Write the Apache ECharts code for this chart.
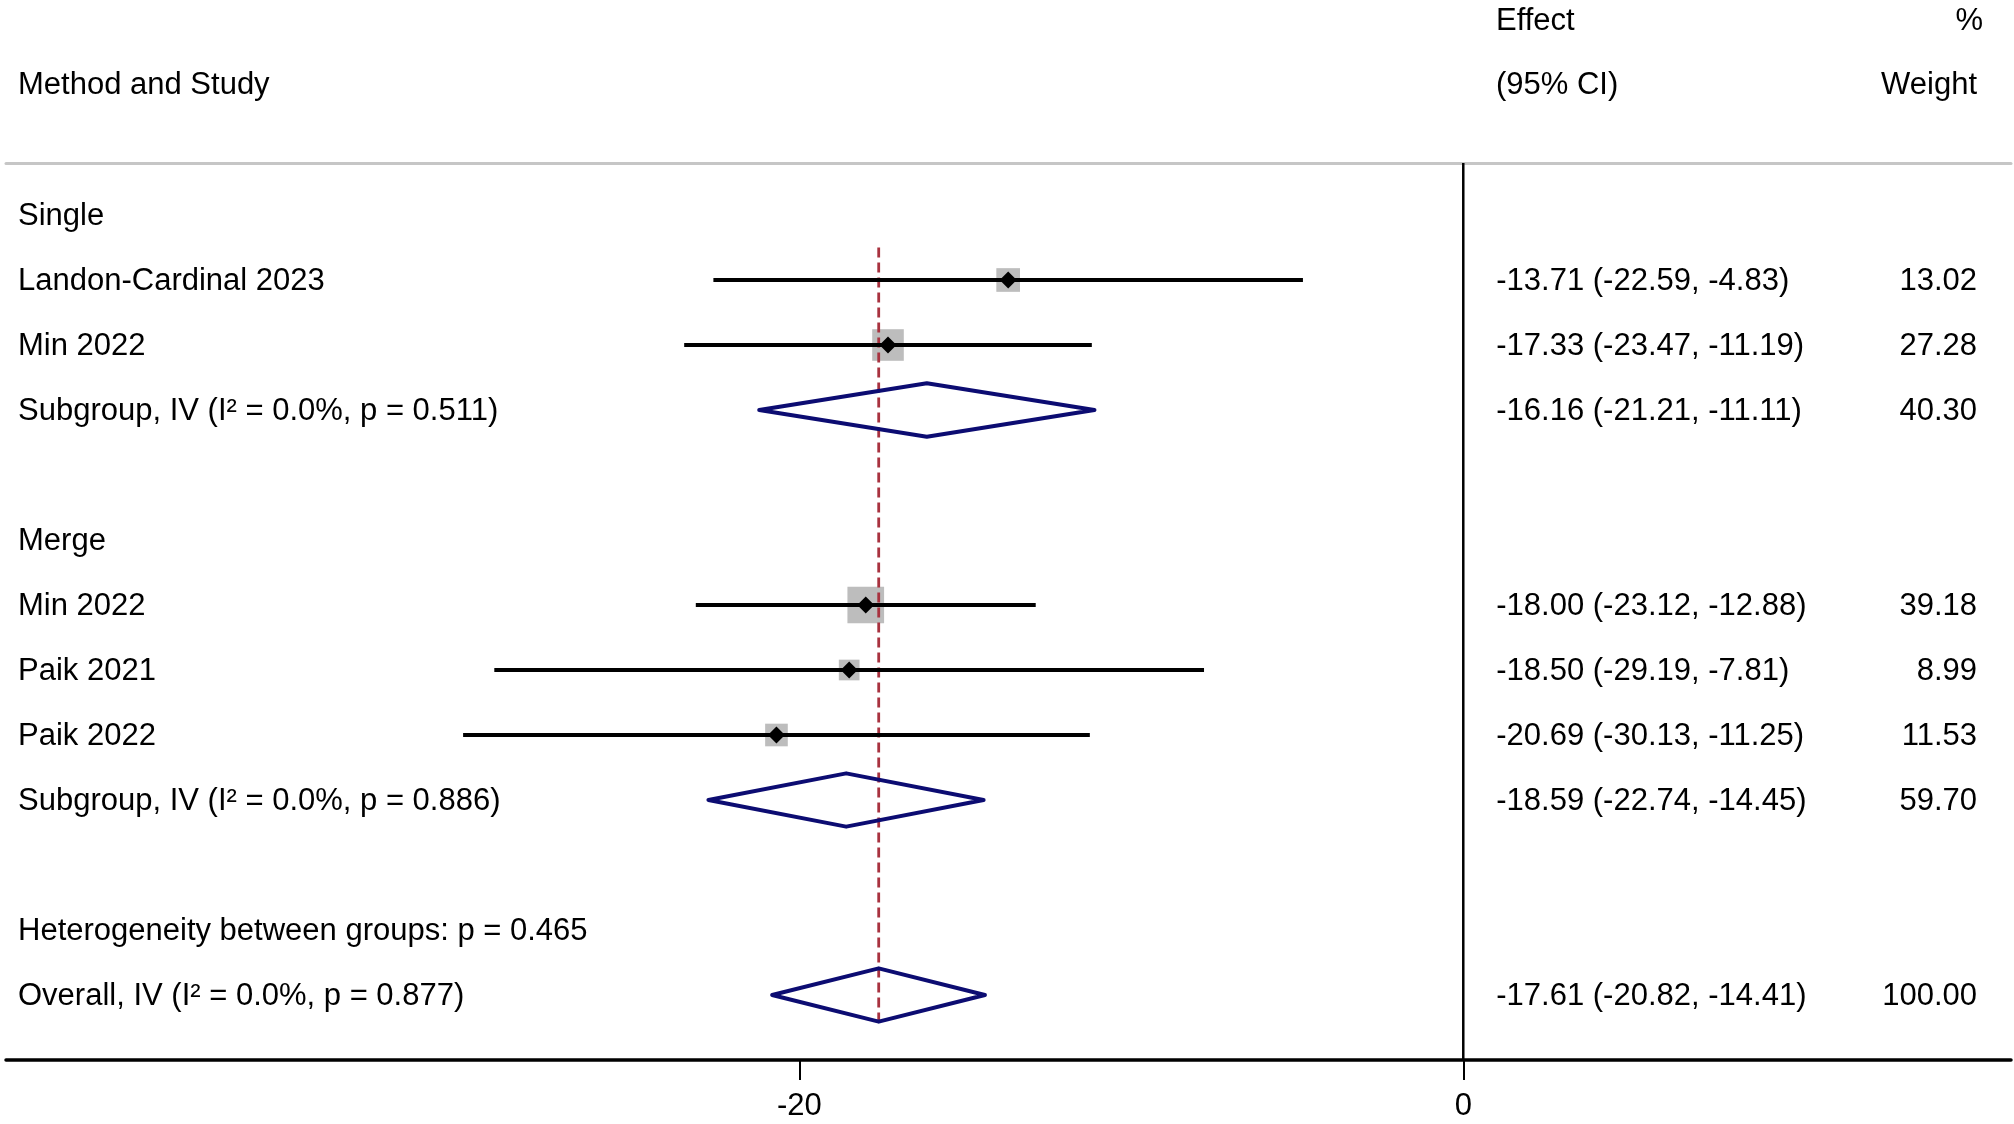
<!DOCTYPE html>
<html>
<head>
<meta charset="utf-8">
<title>Forest plot</title>
<script src="https://cdn.jsdelivr.net/npm/echarts@6/dist/echarts.min.js"></script>
<style>
  html, body { margin: 0; padding: 0; background: #fff; }
  #chart { width: 2014px; height: 1124px; }
</style>
</head>
<body>
<div id="chart"></div>
<script>
// rows, top to bottom
const rowLabels = [
  'Single',
  'Landon-Cardinal 2023',
  'Min 2022',
  'Subgroup, IV (I\u00B2 = 0.0%, p = 0.511)',
  '',
  'Merge',
  'Min 2022',
  'Paik 2021',
  'Paik 2022',
  'Subgroup, IV (I\u00B2 = 0.0%, p = 0.886)',
  '',
  'Heterogeneity between groups: p = 0.465',
  'Overall, IV (I\u00B2 = 0.0%, p = 0.877)'
];

// individual studies
const studyRows = [1, 2, 6, 7, 8];
const studyEst = [-13.71, -17.33, -18.0, -18.5, -20.69];
const studyLo = [-22.59, -23.47, -23.12, -29.19, -30.13];
const studyHi = [-4.83, -11.19, -12.88, -7.81, -11.25];
const studyWeight = [13.02, 27.28, 39.18, 8.99, 11.53];

// subgroup and overall estimates
const pooledRows = [3, 9, 12];
const pooledEst = [-16.16, -18.59, -17.61];
const pooledLo = [-21.21, -22.74, -20.82];
const pooledHi = [-11.11, -14.45, -14.41];
const pooledWeight = [40.3, 59.7, 100.0];

const xTicks = [-20, 0];

const FONT = '"Liberation Sans", Arial, Helvetica, sans-serif';
const FONT_SIZE = 31;
const X_MIN = -43.9;
const X_MAX = 16.5;
const Y_MIN = -0.8;
const Y_MAX = 13;

const fmt = v => v.toFixed(2);
const effectText = (e, l, h) => `${fmt(e)} (${fmt(l)}, ${fmt(h)})`;

// text table: [row, label, effect, weight]
const tableRows = rowLabels.map((label, i) => {
  let eff = '';
  let wt = '';
  const s = studyRows.indexOf(i);
  const p = pooledRows.indexOf(i);
  if (s >= 0) {
    eff = effectText(studyEst[s], studyLo[s], studyHi[s]);
    wt = fmt(studyWeight[s]);
  } else if (p >= 0) {
    eff = effectText(pooledEst[p], pooledLo[p], pooledHi[p]);
    wt = fmt(pooledWeight[p]);
  }
  return [i, label, eff, wt];
});

const studyData = studyRows.map((r, i) => [
  studyEst[i], r, studyLo[i], studyHi[i], studyWeight[i]
]);
const pooledData = pooledRows.map((r, i) => [
  pooledEst[i], r, pooledLo[i], pooledHi[i]
]);

const overall = pooledEst[pooledEst.length - 1];

const chart = echarts.init(document.getElementById('chart'));

const textStyle = (text, align) => ({
  text,
  fill: '#000',
  fontSize: FONT_SIZE,
  fontFamily: FONT,
  align,
  verticalAlign: 'middle'
});

chart.setOption({
  backgroundColor: '#fff',
  animation: false,
  grid: { left: 6, right: 3, top: 163, bottom: 64, containLabel: false },
  xAxis: [
    {
      type: 'value',
      position: 'bottom',
      min: X_MIN,
      max: X_MAX,
      splitLine: { show: false },
      axisLine: { show: true, onZero: false, lineStyle: { color: '#000', width: 3.5 } },
      axisTick: {
        show: true,
        customValues: xTicks,
        length: 20,
        lineStyle: { color: '#000', width: 2 }
      },
      axisLabel: {
        customValues: xTicks,
        color: '#000',
        fontSize: FONT_SIZE,
        fontFamily: FONT,
        margin: 31,
        formatter: v => String(v)
      }
    },
    {
      type: 'value',
      position: 'top',
      min: X_MIN,
      max: X_MAX,
      splitLine: { show: false },
      axisLine: { show: true, onZero: false, lineStyle: { color: '#c6c6c6', width: 3 } },
      axisTick: { show: false },
      axisLabel: { show: false }
    }
  ],
  yAxis: {
    type: 'value',
    inverse: true,
    min: Y_MIN,
    max: Y_MAX,
    show: false
  },
  // column headers
  graphic: [
    { type: 'text', x: 18, y: 85, style: textStyle('Method and Study', 'left') },
    { type: 'text', x: 1496, y: 21, style: textStyle('Effect', 'left') },
    { type: 'text', x: 1496, y: 85, style: textStyle('(95% CI)', 'left') },
    { type: 'text', x: 1983, y: 21, style: textStyle('%', 'right') },
    { type: 'text', x: 1977, y: 85, style: textStyle('Weight', 'right') }
  ],
  series: [
    // zero line
    {
      type: 'line',
      data: [[0, Y_MIN], [0, Y_MAX]],
      symbol: 'none',
      lineStyle: { color: '#000', width: 2.5 },
      z: 1,
      silent: true
    },
    // weight squares
    {
      type: 'custom',
      z: 2,
      silent: true,
      data: studyData,
      renderItem: (params, api) => {
        const c = api.coord([api.value(0), api.value(1)]);
        const s = 6 + 4.9 * Math.sqrt(api.value(4));
        return {
          type: 'rect',
          shape: { x: c[0] - s / 2, y: c[1] - s / 2, width: s, height: s },
          style: { fill: '#bdbdbd' }
        };
      }
    },
    // overall effect reference line
    {
      type: 'line',
      data: [[overall, 0.5], [overall, 12.5]],
      symbol: 'none',
      lineStyle: { color: '#a8323f', width: 2.8, type: [10, 5] },
      z: 3,
      silent: true
    },
    // CI lines and point markers
    {
      type: 'custom',
      z: 4,
      silent: true,
      data: studyData,
      renderItem: (params, api) => {
        const row = api.value(1);
        const c = api.coord([api.value(0), row]);
        const lo = api.coord([api.value(2), row]);
        const hi = api.coord([api.value(3), row]);
        const d = 8.5;
        return {
          type: 'group',
          children: [
            {
              type: 'line',
              shape: { x1: lo[0], y1: lo[1], x2: hi[0], y2: hi[1] },
              style: { stroke: '#000', lineWidth: 4 }
            },
            {
              type: 'polygon',
              shape: {
                points: [[c[0] - d, c[1]], [c[0], c[1] - d], [c[0] + d, c[1]], [c[0], c[1] + d]]
              },
              style: { fill: '#000' }
            }
          ]
        };
      }
    },
    // pooled diamonds
    {
      type: 'custom',
      z: 5,
      silent: true,
      data: pooledData,
      renderItem: (params, api) => {
        const row = api.value(1);
        const est = api.value(0);
        const h = 0.41;
        const pts = [
          api.coord([api.value(2), row]),
          api.coord([est, row - h]),
          api.coord([api.value(3), row]),
          api.coord([est, row + h])
        ];
        return {
          type: 'polygon',
          shape: { points: pts },
          style: { fill: 'rgba(0,0,0,0)', stroke: '#0c0c72', lineWidth: 4, lineJoin: 'round' }
        };
      }
    },
    // text columns
    {
      type: 'custom',
      z: 6,
      silent: true,
      clip: false,
      data: tableRows,
      encode: { x: -1, y: 0 },
      renderItem: (params, api) => {
        const r = tableRows[params.dataIndex];
        const cs = params.coordSys;
        const pt = api.coord([0, r[0]]);
        const y = pt[1] + 1.5;
        return {
          type: 'group',
          children: [
            { type: 'text', x: cs.x + 12, y, style: textStyle(r[1], 'left') },
            { type: 'text', x: pt[0] + 33, y, style: textStyle(r[2], 'left') },
            { type: 'text', x: cs.x + cs.width - 34, y, style: textStyle(r[3], 'right') }
          ]
        };
      }
    }
  ]
});
</script>
</body>
</html>
